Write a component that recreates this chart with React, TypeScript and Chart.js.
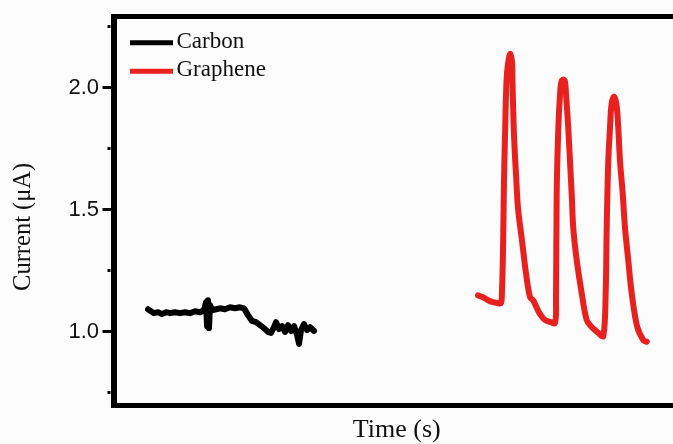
import React, { useEffect, useRef } from "react";
import { Chart, registerables } from "chart.js";

Chart.register(...registerables);

// ---- data ----
const carbonTime = [
  6.09, 6.62, 7.15, 7.86, 8.56, 9.27, 9.97, 10.86, 11.74, 12.62, 13.5, 14.39, 15.27, 15.98,
  16.33, 16.51, 16.68, 16.86, 17.04, 17.39, 18.1, 18.8, 19.68, 20.57, 21.45, 22.33, 23.04,
  23.74, 24.45, 25.16, 25.86, 26.57, 27.27, 27.8, 28.33, 28.69, 29.22, 29.75, 30.28, 30.81,
  31.34, 31.87, 32.4, 32.75, 33.1, 33.63, 34.16, 34.69, 35.4,
];
const carbonCurrent = [
  1.092, 1.084, 1.076, 1.08, 1.072, 1.08, 1.076, 1.08, 1.076, 1.08, 1.076, 1.084, 1.08, 1.088,
  1.121, 1.023, 1.129, 1.015, 1.109, 1.088, 1.092, 1.096, 1.092, 1.1, 1.096, 1.1, 1.096,
  1.068, 1.044, 1.039, 1.027, 1.015, 0.999, 0.995, 1.019, 1.039, 1.011, 1.023, 0.999, 1.027,
  1.003, 1.023, 0.987, 0.95, 1.007, 1.031, 1.007, 1.019, 1.003,
];
const grapheneTime = [
  64.34, 65.23, 66.11, 66.99, 67.87, 68.4, 68.58, 68.76, 68.93, 69.11, 69.37, 69.64, 69.99,
  70.34, 70.43, 70.61, 70.78, 71.05, 71.4, 72.11, 72.82, 73.53, 74.06, 74.58, 75.29, 76.17,
  77.05, 77.94, 78.11, 78.23, 78.52, 78.82, 79.08, 79.4, 79.7, 79.88, 80.28, 80.58, 80.88,
  81.16, 81.77, 82.65, 83.53, 84.41, 85.0, 85.58, 86.46, 86.88, 87.06, 87.34, 87.64, 87.91,
  88.35, 88.79, 89.11, 89.41, 89.89, 90.29, 90.87, 91.47, 92.46, 93.52, 94.12,
];
const grapheneCurrent = [
  1.149, 1.141, 1.129, 1.121, 1.117, 1.117, 1.17, 1.333, 1.617, 1.801, 2.025, 2.098, 2.138,
  2.106, 2.025, 1.862, 1.76, 1.646, 1.508, 1.373, 1.239, 1.141, 1.129, 1.105, 1.072, 1.048,
  1.04, 1.036, 1.129, 1.565, 1.833, 1.972, 2.025, 2.033, 2.025, 1.972, 1.833, 1.699, 1.565,
  1.426, 1.292, 1.158, 1.048, 1.019, 1.007, 0.995, 0.982, 1.158, 1.426, 1.699, 1.833, 1.93,
  1.963, 1.93, 1.833, 1.699, 1.565, 1.426, 1.292, 1.158, 1.019, 0.966, 0.959,
];
const seriesLabels = ["Carbon", "Graphene"];
const seriesColors = ["#000000", "#e8211f"];
const yMajorTicks = [1.0, 1.5, 2.0];
const yTitle = "Current (μA)";
const xTitle = "Time (s)";

const zip = (xs: number[], ys: number[]) => xs.map((x, i) => ({ x, y: ys[i] }));

const serif = "'Liberation Serif', 'Times New Roman', serif";
const sans = "'Liberation Sans', Arial, sans-serif";

const isMajor = (v: number) => yMajorTicks.some((m) => Math.abs(m - v) < 1e-9);

const legendPlugin = {
  id: "insideLegend",
  afterDraw(chart: any) {
    const { ctx, chartArea } = chart;
    ctx.save();
    chart.data.datasets.forEach((ds: any, i: number) => {
      const y = chartArea.top + 26 + i * 28.5;
      ctx.strokeStyle = ds.borderColor;
      ctx.lineWidth = 5;
      ctx.lineCap = "butt";
      ctx.beginPath();
      ctx.moveTo(chartArea.left + 16.5, y);
      ctx.lineTo(chartArea.left + 59.5, y);
      ctx.stroke();
      ctx.fillStyle = "#111";
      ctx.font = `23px ${serif}`;
      ctx.textAlign = "left";
      ctx.textBaseline = "alphabetic";
      ctx.fillText(ds.label, chartArea.left + 63, y + 5);
    });
    ctx.restore();
  },
};

const yTitlePlugin = {
  id: "yTitle",
  afterDraw(chart: any) {
    const { ctx, chartArea } = chart;
    ctx.save();
    ctx.translate(24, (chartArea.top + chartArea.bottom) / 2 + 16);
    ctx.rotate(-Math.PI / 2);
    ctx.fillStyle = "#111";
    ctx.font = `24.5px ${serif}`;
    ctx.textAlign = "center";
    ctx.textBaseline = "middle";
    ctx.fillText(yTitle, 0, 0);
    ctx.restore();
  },
};

export default function App() {
  const ref = useRef<HTMLCanvasElement | null>(null);
  useEffect(() => {
    if (!ref.current) return;
    const chart = new Chart(ref.current, {
      type: "line",
      data: {
        datasets: [
          {
            label: seriesLabels[0],
            data: zip(carbonTime, carbonCurrent),
            borderColor: seriesColors[0],
            backgroundColor: seriesColors[0],
            borderWidth: 6,
            pointRadius: 0,
            borderJoinStyle: "round",
            borderCapStyle: "round",
          },
          {
            label: seriesLabels[1],
            data: zip(grapheneTime, grapheneCurrent),
            borderColor: seriesColors[1],
            backgroundColor: seriesColors[1],
            borderWidth: 6,
            pointRadius: 0,
            borderJoinStyle: "round",
            borderCapStyle: "round",
            tension: 0.35,
          },
        ],
      },
      options: {
        animation: false,
        responsive: false,
        devicePixelRatio: 1,
        layout: { padding: 0 },
        plugins: { legend: { display: false }, tooltip: { enabled: false } },
        scales: {
          x: {
            type: "linear",
            position: "bottom",
            min: 0,
            max: 100,
            ticks: { display: false },
            grid: { display: false },
            border: { display: true, width: 5, color: "#000" },
            title: {
              display: true,
              text: xTitle,
              color: "#111",
              font: { family: serif, size: 26, lineHeight: 1.05 },
              padding: { top: 0, bottom: 0 },
            },
            afterFit: (s: any) => {
              s.height = 39;
            },
          },
          x2: {
            type: "linear",
            position: "top",
            min: 0,
            max: 100,
            ticks: { display: false },
            grid: { display: false },
            border: { display: true, width: 5, color: "#000" },
            afterFit: (s: any) => {
              s.height = 14.5;
            },
          },
          y: {
            type: "linear",
            min: 0.7,
            max: 2.29,
            ticks: {
              stepSize: 0.25,
              includeBounds: false,
              autoSkip: false,
              padding: 3.5,
              color: "#111",
              font: { family: sans, size: 22 },
              callback: (v: any) => (isMajor(Number(v)) ? Number(v).toFixed(1) : ""),
            },
            grid: {
              display: true,
              drawOnChartArea: false,
              drawTicks: true,
              tickLength: 11,
              tickWidth: 3,
              tickColor: "#000",
              tickBorderDash: (c: any) => (c.tick && isMajor(c.tick.value) ? [] : [0, 5, 3, 100]),
            },
            border: { display: true, width: 6, color: "#000" },
            afterFit: (s: any) => {
              s.width = 113.5;
            },
          },
        },
      },
      plugins: [legendPlugin, yTitlePlugin],
    } as any);
    return () => chart.destroy();
  }, []);

  return (
    <div
      style={{
        position: "absolute",
        left: 0,
        top: 0,
        width: 673,
        height: 444,
        overflow: "hidden",
        background: "#fcfcfd",
      }}
    >
      <canvas ref={ref} width={680} height={444} style={{ width: 680, height: 444, display: "block" }} />
    </div>
  );
}
